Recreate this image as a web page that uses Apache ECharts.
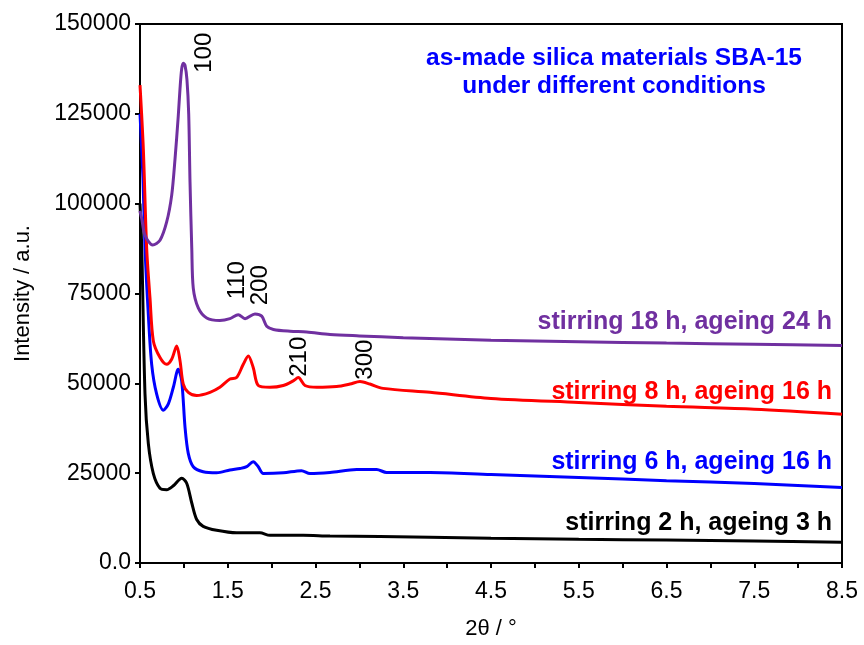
<!DOCTYPE html>
<html>
<head>
<meta charset="utf-8">
<script src="https://cdn.jsdelivr.net/npm/echarts@6/dist/echarts.min.js"></script>
<style>
html,body{margin:0;padding:0;background:#fff;}
#chart{width:864px;height:645px;}
</style>
</head>
<body>
<div id="chart"></div>
<script>
// 2θ values and intensities for each sample
const blackX = [0.5, 0.52, 0.557, 0.595, 0.652, 0.728, 0.804, 0.88, 0.975, 1.032, 1.09, 1.146, 1.22, 1.374, 1.6, 1.867, 1.98, 2.36, 2.665, 3.805, 4.5, 5.5, 6.5, 7.5, 8.5];
const blackY = [100000, 87600, 47000, 33200, 24900, 20800, 20400, 21500, 23600, 22200, 16700, 12100, 10200, 9100, 8400, 8400, 7700, 7700, 7500, 7200, 6900, 6600, 6400, 6100, 5800];

const blueX = [0.5, 0.534, 0.557, 0.595, 0.633, 0.69, 0.766, 0.823, 0.88, 0.936, 0.975, 1.013, 1.05, 1.107, 1.22, 1.374, 1.525, 1.64, 1.716, 1.79, 1.848, 1.905, 2.133, 2.34, 2.437, 2.665, 2.97, 3.197, 3.31, 3.805, 4.5, 5.5, 6.5, 7.5, 8.5];
const blueY = [125000, 107000, 87600, 69100, 55300, 47000, 42500, 44300, 48900, 53900, 50700, 37800, 30500, 26800, 25400, 25100, 25900, 26300, 26800, 28200, 26800, 24900, 25100, 25700, 24900, 25200, 26000, 26000, 25200, 25200, 24600, 23800, 22900, 22100, 21000];

const redX = [0.5, 0.538, 0.576, 0.614, 0.652, 0.728, 0.804, 0.861, 0.918, 0.956, 0.993, 1.05, 1.146, 1.298, 1.41, 1.525, 1.6, 1.677, 1.734, 1.79, 1.848, 1.98, 2.133, 2.247, 2.304, 2.38, 2.514, 2.74, 2.893, 3.007, 3.12, 3.27, 3.805, 4.5, 5.5, 6.5, 7.5, 8.5];
const redY = [133000, 115200, 87600, 73700, 61800, 57200, 55300, 56700, 60400, 56300, 49800, 47500, 46600, 47500, 48900, 51200, 51600, 55300, 57600, 54400, 49400, 48900, 49400, 50700, 51600, 49400, 48900, 49100, 49800, 50500, 49800, 48600, 47500, 45800, 44700, 43600, 42800, 41400];

const purpleX = [0.5, 0.52, 0.557, 0.645, 0.728, 0.804, 0.861, 0.899, 0.936, 0.956, 0.975, 0.993, 1.013, 1.035, 1.055, 1.07, 1.09, 1.107, 1.164, 1.26, 1.41, 1.525, 1.62, 1.697, 1.81, 1.887, 1.944, 2.02, 2.21, 2.4, 2.665, 3.0, 3.5, 4.5, 5.5, 6.5, 7.5, 8.5];
const purpleY = [98000, 95800, 91200, 88500, 89800, 94900, 102300, 112400, 124400, 132000, 137500, 139100, 138500, 134500, 125000, 106000, 87600, 76500, 71000, 68200, 67500, 68000, 69100, 68000, 69300, 68700, 65900, 65000, 64500, 64300, 63600, 63200, 62700, 62000, 61600, 61200, 60900, 60500];

// reflection labels (hkl) and their positions in data space
const peakNames = ['100', '110', '200', '210', '300'];
const peakX = [1.229, 1.611, 1.868, 2.312, 3.064];
const peakY = [142000, 78700, 77300, 57400, 56600];

const seriesNames = ['stirring 2 h, ageing 3 h', 'stirring 6 h, ageing 16 h', 'stirring 8 h, ageing 16 h', 'stirring 18 h, ageing 24 h'];
const titleLines = ['as-made silica materials SBA-15', 'under different conditions'];

const colors = ['#000000', '#0000FF', '#FF0000', '#7030A0'];
const FONT = 'Liberation Sans, Arial, sans-serif';

function zip(xs, ys) { return xs.map((x, i) => [x, ys[i]]); }

const chart = echarts.init(document.getElementById('chart'));
const lineData = [zip(blackX, blackY), zip(blueX, blueY), zip(redX, redY), zip(purpleX, purpleY)];

const series = lineData.map((d, i) => ({
  type: 'line',
  name: seriesNames[i],
  data: d,
  showSymbol: false,
  symbol: 'none',
  smooth: 0.3,
  lineStyle: { color: colors[i], width: 3 },
  z: 2 + i,
  animation: false
}));

series.push({
  type: 'scatter',
  data: peakX.map((x, i) => ({ value: [x, peakY[i]], name: peakNames[i] })),
  symbolSize: 2,
  itemStyle: { color: 'rgba(0,0,0,0)' },
  label: {
    show: true,
    position: 'inside',
    rotate: 90,
    formatter: p => p.name,
    fontFamily: FONT,
    fontSize: 24,
    color: '#000',
    opacity: 1,
    textBorderWidth: 0
  },
  emphasis: { disabled: true },
  labelLayout: { hideOverlap: false },
  z: 10,
  animation: false
});

const legendY = [523, 462, 392, 322];
const graphic = [];
seriesNames.forEach((n, i) => {
  graphic.push({
    type: 'text',
    x: 832, y: legendY[i],
    style: { text: n, fill: colors[i], font: 'bold 25px ' + FONT, textAlign: 'right', textVerticalAlign: 'middle' },
    z: 20
  });
});
titleLines.forEach((t, i) => {
  graphic.push({
    type: 'text',
    x: 614, y: 58 + i * 28,
    style: { text: t, fill: '#0000FF', font: 'bold 24.5px ' + FONT, textAlign: 'center', textVerticalAlign: 'middle' },
    z: 20
  });
});

chart.setOption({
  backgroundColor: '#fff',
  animation: false,
  grid: { left: 140, right: 22, top: 24, bottom: 78, show: true, borderColor: '#000', borderWidth: 2, backgroundColor: 'transparent' },
  xAxis: {
    type: 'value',
    min: 0.5, max: 8.5, interval: 0.5,
    name: '2\u03B8 / \u00B0',
    nameLocation: 'middle',
    nameGap: 55,
    nameTextStyle: { fontFamily: FONT, fontSize: 22, color: '#000' },
    axisLine: { lineStyle: { color: '#000', width: 2 } },
    axisTick: { show: true, length: 5, lineStyle: { color: '#000', width: 2 } },
    axisLabel: {
      fontFamily: FONT, fontSize: 23, color: '#000', margin: 17,
      formatter: v => Number.isInteger(Math.round((v - 0.5) * 1000) / 1000) ? v.toFixed(1) : ''
    },
    splitLine: { show: false }
  },
  yAxis: {
    type: 'value',
    min: 0, max: 150000, interval: 25000,
    name: 'Intensity / a.u.',
    nameLocation: 'middle',
    nameGap: 106,
    nameTextStyle: { fontFamily: FONT, fontSize: 22, color: '#000' },
    axisLine: { show: true, lineStyle: { color: '#000', width: 2 } },
    axisTick: { show: true, length: 5, lineStyle: { color: '#000', width: 2 } },
    axisLabel: {
      fontFamily: FONT, fontSize: 23, color: '#000', margin: 9,
      formatter: v => v === 0 ? '0.0' : String(v)
    },
    splitLine: { show: false }
  },
  graphic: graphic,
  series: series
});
</script>
</body>
</html>
